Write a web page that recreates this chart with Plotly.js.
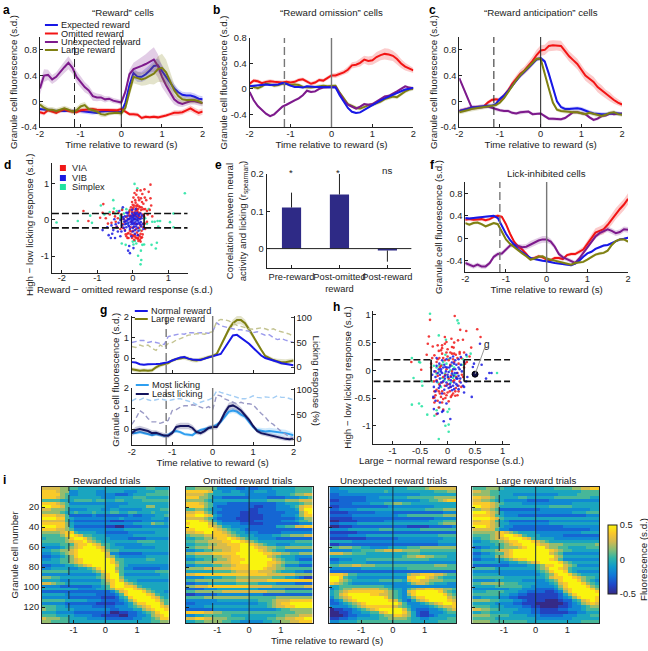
<!DOCTYPE html>
<html>
<head>
<meta charset="utf-8">
<script src="https://cdn.plot.ly/plotly-3.0.1.min.js"></script>
<style>html,body{margin:0;padding:0;background:#fff}</style>
</head>
<body>
<div id="fig" style="width:648px;height:651px"></div>
<script>
// time base shared by all the traces, read every 0.1 s
var t = [-2,-1.9,-1.8,-1.7,-1.6,-1.5,-1.4,-1.3,-1.2,-1.1,-1,-.9,-.8,-.7,-.6,-.5,-.4,-.3,-.2,-.1,0,.1,.2,.3,.4,.5,.6,.7,.8,.9,1,1.1,1.2,1.3,1.4,1.5,1.6,1.7,1.8,1.9,2];

// panel a
var aBlue = [-.12,-.13,-.13,-.14,-.15,-.15,-.15,-.14,-.15,-.15,-.15,-.16,-.17,-.18,-.18,-.16,-.15,-.15,-.15,-.16,-.17,-.02,.25,.44,.38,.38,.42,.48,.55,.56,.47,.38,.28,.2,.14,.1,.09,.09,.07,.04,.03];
var aRed = [-.17,-.19,-.14,-.16,-.18,-.15,-.12,-.15,-.16,-.17,-.14,-.13,-.13,-.12,-.13,-.13,-.14,-.13,-.14,-.14,-.12,-.16,-.2,-.2,-.21,-.26,-.24,-.25,-.24,-.25,-.24,-.22,-.2,-.18,-.18,-.17,-.14,-.11,-.15,-.18,-.16];
var aPurple = [.2,.4,.41,.34,.38,.46,.53,.6,.52,.38,.3,.22,.17,.08,.06,.06,.03,.04,.01,0,-.02,.15,.42,.5,.52,.55,.58,.62,.65,.55,.38,.25,.13,.03,-.02,-.04,-.02,0,0,-.01,-.03];
var aOlive = [-.05,-.1,-.13,-.13,-.15,-.13,-.11,-.13,-.16,-.14,-.08,-.06,-.12,-.14,-.16,-.2,-.21,-.19,-.18,-.18,-.19,-.1,.15,.38,.36,.34,.36,.4,.43,.5,.52,.45,.32,.17,.08,.03,.02,.02,.02,0,-.03];
var aBlueSem = [.03,.03,.03,.03,.03,.03,.03,.03,.03,.03,.03,.03,.03,.03,.03,.03,.03,.03,.03,.03,.03,.04,.06,.08,.08,.08,.09,.09,.1,.1,.1,.09,.08,.07,.05,.05,.05,.05,.05,.05,.05];
var aRedSem = [.03,.03,.03,.03,.03,.03,.03,.03,.03,.03,.03,.03,.03,.03,.03,.03,.03,.03,.03,.03,.03,.03,.03,.03,.03,.03,.03,.03,.03,.03,.03,.03,.03,.04,.04,.04,.04,.05,.05,.05,.05];
var aPurpleSem = [.1,.1,.08,.07,.07,.08,.09,.1,.09,.09,.09,.08,.07,.07,.06,.05,.05,.04,.04,.04,.04,.05,.07,.1,.12,.14,.15,.17,.19,.18,.16,.12,.1,.08,.06,.05,.05,.05,.05,.05,.05];
var aOliveSem = [.04,.05,.04,.04,.04,.04,.04,.04,.04,.05,.05,.05,.04,.04,.04,.04,.04,.03,.03,.03,.04,.05,.08,.1,.1,.1,.11,.13,.17,.2,.22,.2,.15,.1,.07,.06,.05,.05,.05,.04,.04];

// panel b
var bBlue = [.04,.05,.05,.06,.07,.06,.06,.07,.09,.08,.05,.03,.03,.02,.04,.03,.03,.03,.03,.03,.03,.02,-.1,-.2,-.3,-.36,-.38,-.37,-.33,-.29,-.25,-.22,-.18,-.15,-.12,-.09,-.06,-.03,-.01,0,.02];
var bRed = [.08,.13,.12,.09,.11,.12,.11,.1,.1,.11,.1,.11,.14,.15,.11,.08,.1,.14,.13,.17,.21,.21,.23,.26,.3,.37,.38,.41,.46,.44,.45,.5,.53,.55,.54,.52,.47,.4,.35,.32,.29];
var bPurple = [-.05,-.18,-.27,-.33,-.39,-.43,-.4,-.34,-.28,-.25,-.21,-.18,-.15,-.1,-.03,-.05,-.04,0,.02,.03,.03,.03,-.08,-.18,-.25,-.28,-.31,-.28,-.24,-.25,-.24,-.2,-.16,-.12,-.11,-.08,-.04,0,.04,.02,.01];
var bOlive = [.05,.03,.01,.04,.08,.07,.05,.06,.08,.08,.06,.07,.06,.03,.02,.02,.03,.04,.05,.04,.04,.05,-.06,-.15,-.24,-.27,-.3,-.31,-.28,-.26,-.25,-.23,-.2,-.16,-.14,-.12,-.13,-.08,-.04,-.01,0];
var bRedSem = [.03,.03,.03,.03,.03,.03,.03,.03,.03,.03,.03,.03,.03,.03,.03,.03,.03,.03,.03,.03,.03,.04,.04,.04,.05,.05,.05,.06,.06,.07,.07,.08,.08,.09,.09,.08,.08,.07,.06,.05,.04];

// panel c
var cBlue = [-.15,-.14,-.12,-.1,-.09,-.08,-.08,-.07,-.07,-.04,.04,.09,.16,.24,.33,.4,.46,.52,.58,.65,.67,.62,.43,.2,0,-.09,-.12,-.12,-.11,-.11,-.12,-.15,-.17,-.19,-.2,-.2,-.2,-.19,-.18,-.19,-.2];
var cRed = [-.15,-.13,-.12,-.1,-.09,-.09,-.08,-.02,.02,.03,.02,.09,.17,.27,.36,.43,.48,.55,.63,.72,.79,.8,.86,.87,.87,.86,.78,.7,.64,.58,.49,.4,.35,.3,.22,.17,.11,.07,.02,-.02,-.05];
var cPurple = [.36,.2,.04,-.09,-.1,-.1,-.09,-.08,-.1,-.13,-.14,-.15,-.15,-.18,-.19,-.17,-.17,-.16,-.2,-.19,-.19,-.23,-.27,-.27,-.28,-.28,-.26,-.21,-.17,-.17,-.19,-.2,-.25,-.29,-.27,-.23,-.22,-.19,-.2,-.2,-.19];
var cOlive = [-.17,-.16,-.14,-.12,-.11,-.1,-.09,-.08,-.07,-.06,-.02,.05,.14,.24,.33,.41,.47,.53,.6,.66,.66,.45,.2,-.02,-.13,-.15,-.16,-.17,-.17,-.17,-.18,-.2,-.18,-.2,-.22,-.23,-.21,-.18,-.17,-.2,-.21];
var cRedSem = [.03,.03,.03,.03,.03,.03,.03,.03,.03,.03,.03,.04,.04,.05,.05,.06,.06,.07,.07,.08,.08,.08,.08,.08,.08,.08,.08,.08,.08,.08,.08,.08,.08,.08,.08,.08,.07,.07,.06,.05,.04];

// panel f
var fBlue = [.36,.35,.36,.37,.37,.38,.39,.4,.36,.22,.08,-.03,-.12,-.2,-.25,-.3,-.35,-.37,-.39,-.4,-.41,-.43,-.44,-.45,-.46,-.47,-.48,-.45,-.4,-.33,-.27,-.24,-.19,-.16,-.13,-.12,-.09,-.05,-.02,-.01,.01];
var fRed = [.33,.34,.33,.34,.34,.32,.34,.38,.4,.38,.25,.08,-.06,-.15,-.2,-.28,-.37,-.35,-.32,-.34,-.38,-.39,-.35,-.35,-.37,-.3,-.28,-.28,-.24,-.2,-.1,0,.1,.13,.16,.24,.34,.44,.52,.6,.7];
var fPurple = [-.44,-.47,-.5,-.47,-.5,-.5,-.44,-.33,-.28,-.27,-.2,-.13,-.11,-.14,-.16,-.15,-.11,-.08,-.04,-.02,-.02,-.06,-.15,-.28,-.34,-.37,-.4,-.44,-.36,-.26,-.15,-.05,.03,.09,.13,.16,.13,.09,.11,.16,.15];
var fOlive = [.27,.24,.27,.28,.25,.21,.24,.27,.25,.12,-.02,-.1,-.16,-.22,-.27,-.32,-.38,-.36,-.33,-.32,-.36,-.38,-.4,-.42,-.43,-.45,-.47,-.44,-.43,-.42,-.38,-.33,-.29,-.27,-.26,-.22,-.12,-.05,-.02,-.02,-.06];
var fRedSem = [.03,.03,.03,.03,.03,.03,.03,.03,.03,.03,.03,.03,.03,.03,.03,.03,.03,.03,.03,.03,.03,.03,.03,.03,.03,.03,.03,.03,.04,.05,.06,.07,.08,.08,.09,.09,.1,.1,.1,.1,.1];
var fPurpleSem = [.04,.04,.04,.04,.04,.04,.04,.04,.04,.04,.04,.04,.04,.04,.05,.05,.06,.06,.06,.06,.06,.05,.05,.04,.04,.04,.04,.04,.04,.04,.04,.04,.04,.04,.04,.05,.05,.05,.05,.05,.05];

// panel g, upper plot
var gBlue = [-.2,-.22,-.3,-.33,-.3,-.28,-.29,-.28,-.25,-.2,-.12,-.05,.03,.05,-.03,-.07,-.1,-.1,-.03,.02,.1,.13,.2,.5,.8,1.1,1.13,1,.85,.7,.5,.3,.12,0,-.05,-.12,-.18,-.25,-.28,-.3,-.35];
var gOlive = [-.55,-.6,-.62,-.6,-.62,-.6,-.45,-.35,-.3,-.25,-.12,-.05,-.02,.02,-.03,-.1,-.12,-.08,-.02,.05,.1,.2,.6,1,1.4,1.7,1.85,1.85,1.7,1.4,1.05,.75,.4,.1,0,-.1,-.15,-.2,-.2,-.15,-.12];
var gOliveSem = [.1,.1,.1,.1,.1,.1,.1,.1,.08,.08,.08,.08,.08,.1,.1,.1,.1,.1,.08,.08,.08,.08,.1,.12,.15,.18,.2,.2,.18,.15,.12,.1,.08,.08,.08,.1,.12,.14,.14,.12,.1];
var gBlueLick = [50,52,54,54,50,52,50,47,46,62,64,66,68,67,70,70,69,70,70,69,72,90,84,82,80,78,76,76,75,73,70,72,68,65,66,60,56,58,55,53,50];
var gOliveLick = [42,40,45,42,45,38,34,45,40,48,50,55,58,62,65,66,68,68,67,70,72,93,97,96,94,90,85,83,80,78,77,78,80,78,75,78,74,72,70,67,62];

// panel g, lower plot
var gMost = [-.2,-.2,-.15,-.2,-.22,-.3,-.25,-.3,-.33,-.3,-.15,-.1,-.15,-.25,-.28,-.3,-.15,-.05,0,.05,.1,.2,.35,.6,.85,.9,.85,.7,.6,.35,.1,-.05,-.1,-.12,-.1,-.12,-.13,-.15,-.2,-.25,-.3];
var gLeast = [-.2,-.05,0,-.05,-.1,-.2,-.18,-.25,-.32,-.33,-.2,.1,.15,.15,.15,.05,-.15,-.2,-.1,.05,.1,.1,.4,.8,1.1,1.15,1.05,.9,.7,.45,.15,-.1,-.2,-.25,-.3,-.35,-.4,-.45,-.48,-.5,-.48];
var gMostSem = [.08,.08,.08,.08,.08,.08,.08,.08,.08,.08,.08,.08,.08,.08,.08,.08,.08,.08,.08,.08,.08,.1,.1,.12,.12,.12,.12,.12,.12,.1,.1,.12,.14,.16,.16,.16,.16,.16,.16,.14,.12];
var gLeastSem = [.16,.16,.16,.16,.14,.14,.12,.12,.12,.12,.12,.15,.16,.16,.16,.14,.12,.12,.12,.12,.12,.12,.14,.16,.18,.2,.18,.16,.14,.12,.1,.1,.1,.1,.1,.1,.1,.1,.1,.1,.1];
var gMostLick = [78,82,80,84,80,78,80,82,80,78,80,82,82,80,78,75,70,75,78,80,84,98,95,92,90,88,85,82,82,84,88,85,84,86,85,84,88,85,85,82,80];
var gLeastLick = [30,42,58,52,42,35,35,32,35,38,58,60,65,68,68,70,68,65,62,66,60,90,88,82,78,75,72,75,72,72,70,60,52,45,35,30,22,15,10,5,3];

// panel d, cells as [reward - omitted, high - low licking]
var viaD = [[-1.39,.25],[-.83,.44],[-1.25,-.03],[-.92,.06],[-.76,.05],[-.65,.15],[-.6,-.08],[-.55,.22],[-.5,.1],[-.45,-.18],[-.42,.05],[-.35,-.25],[-.3,.28],[-.28,-.12],[-.25,.02],[-.2,-.4],[-.18,-.45],[-.15,-.38],[-.12,-.5],[-.1,.12],[-.08,-.3],[-.05,.35],[-.04,-.05],[-.02,.5],[0,.3],[0,-.42],[.02,.62],[.03,.2],[.04,-.55],[.05,.4],[.06,-.1],[.08,.25],[.08,-.48],[.1,.7],[.1,.12],[.12,-.35],[.13,.42],[.15,.3],[.15,-.5],[.17,.05],[.18,.55],[.2,-.45],[.2,.2],[.22,-.15],[.23,.6],[.25,.35],[.25,-.3],[.27,.72],[.28,-.4],[.3,.45],[.32,.1],[.33,.85],[.35,-.25],[.38,.55],[.4,.25],[.45,.78],[.5,.98],[.5,.6],[.52,.4],[.48,.28],[.55,.1],[.35,.3],[.42,.15],[.05,.75],[.12,.82],[-.1,.22],[-.18,.08],[-.02,.1],[.06,.03],[-.06,-.2],[.1,-.25],[.15,.1],[.22,.08],[.3,-.1],[.28,.15],[.02,-.3],[-.12,.18],[-.02,-.5],[.14,-.52],[.2,-.55],[-.15,-.5],[0,.42],[.08,.48],[.18,.38],[.12,.28],[-.08,.28],[.04,.14],[-.22,-.28],[.24,-.5],[.16,-.42],[.02,.35],[.07,.55],[.11,.38],[.16,.62],[.2,.35],[.26,.5],[.3,.3],[.34,.62],[.22,.82],[.18,.18],[.24,.28],[-.02,.22],[-.06,.12],[.06,.16],[.1,.32],[.14,.22],[-.12,.02],[-.22,-.05],[-.28,-.22],[-.32,.15],[-.4,.2],[-.48,-.05],[-.7,-.1],[-.85,.2],[-.12,-.36],[-.06,-.4],[.02,-.45],[.06,-.42],[.1,-.5],[.16,-.58],[.22,-.38],[.26,-.48],[.3,-.2],[.34,-.1],[.4,-.05],[.12,-.12],[.18,-.22],[.02,-.2],[-.04,-.32],[.22,-.6]];
var vibD = [[-.72,-.2],[-.68,-.42],[-.62,-.5],[-.58,-.38],[-.55,-.28],[-.5,-.5],[-.48,-.12],[-.42,-.32],[-.38,.25],[-.35,-.45],[-.3,-.15],[-.28,.35],[-.25,-.22],[-.22,.1],[-.2,-.02],[-.18,-.2],[-.15,.12],[-.12,-.08],[-.1,.02],[-.08,-.25],[-.06,.1],[-.04,-.12],[-.02,.18],[0,-.02],[0,-.32],[.02,.08],[.04,-.18],[.06,.2],[.08,-.05],[.1,-.12],[.1,.08],[.12,0],[.14,-.22],[.16,.15],[.18,-.08],[.2,.02],[.22,.18],[.24,-.18],[.06,-.38],[-.04,-.45],[.14,-.42],[-.1,-.72],[-.13,-.85],[-.08,-.92],[.02,-.78],[-.02,.28],[.08,.3],[.25,.05],[.3,-.25],[.14,.05],[-.03,0],[.03,-.08],[-.12,-.15],[-.16,-.02],[-.22,-.12],[.05,.02],[.09,-.18],[0,.14],[-.08,.05],[.18,.12],[-.35,0],[-.26,.03],[-.4,-.08],[-.85,-.28],[-.6,-.15],[-.52,.02],[-.45,-.2],[-.32,-.32],[-.22,-.3],[-.18,-.1],[-.14,.2],[-.1,-.18],[-.06,-.05],[-.02,-.08],[.02,-.12],[.04,.03],[.07,-.28],[.1,.16],[.13,-.1],[.15,-.02],[.2,-.12],[.23,-.06],[.26,.12],[.12,.2],[-.02,.05],[-.14,.03],[-.24,-.05],[0,-.22],[.05,.12],[-.28,.08],[-.18,.2],[.28,-.12],[.16,-.3]];
var simplexD = [[-2.15,-.07],[-1.55,-.03],[-1.15,-.08],[-1.2,.12],[-.9,.4],[-.8,.15],[-.65,.22],[-.55,.55],[-.5,.18],[-.45,.25],[-.35,.05],[-.3,.3],[.05,1],[.13,.88],[.45,.3],[.55,-.05],[.72,-.18],[.62,-.05],[1.15,.18],[1.05,-.06],[1.15,-.2],[1.47,.74],[.7,-.03],[.77,-.03],[.68,-.63],[.53,-.69],[.65,-.79],[.32,-.68],[.27,-.69],[.23,-.85],[.15,-.99],[.24,-1.11],[.22,-1.23],[-.31,-.65],[-.2,-.69],[.02,-.68],[.06,-.58],[-.53,.32],[-.35,.12],[-.25,.18],[-.18,.3],[-.1,.25],[.1,-.65],[0,-.6],[-.15,-.1],[0,.08],[.08,.02],[.2,-.28],[.4,-.1],[.35,.05]];

// panel h, cells as [large - normal, high - low licking]
var viaH = [[.13,.98],[-.32,.91],[.23,.73],[.34,.71],[.54,.74],[.6,.6],[-.34,.61],[-.36,.48],[-.27,.43],[-.18,.45],[-.1,.45],[-.02,.51],[.07,.57],[.19,.54],[.28,.55],[.11,.41],[.22,.33],[.43,.41],[-.38,.28],[-.24,.27],[-.12,.36],[-.66,.15],[-.48,.01],[-.24,-.49],[-.16,-.67],[-.08,-.71],[-.2,-.79],[-.2,.15],[-.15,.22],[-.1,.3],[-.05,.18],[0,.25],[.05,.32],[.1,.2],[.15,.28],[.2,.12],[.25,.22],[.3,.05],[.05,.1],[-.12,.08],[-.02,.02],[.08,-.02],[.18,-.05],[-.22,-.02],[-.18,-.1],[-.08,-.12],[.02,-.15],[.12,-.18],[.22,-.2],[.28,-.12],[-.25,-.2],[-.15,-.25],[-.05,-.28],[.05,-.3],[.15,-.32],[.25,-.3],[-.2,-.35],[-.1,-.38],[0,-.4],[.1,-.42],[.2,-.38],[-.22,-.45],[-.12,-.48],[-.02,-.45],[.06,-.48],[.14,-.46],[-.18,-.55],[-.08,-.52],[.02,-.56],[-.26,-.5],[.35,.15],[.4,.25],[-.3,.12],[-.28,.22],[0,.38],[.08,.42],[-.05,.48],[.12,.3],[-.1,.4],[-.18,.2],[-.08,.22],[.02,.18],[.12,.15],[.22,.3],[.08,.3],[-.16,.35],[-.02,.32],[.18,.22],[-.14,.05],[-.04,-.08],[.06,-.1],[.16,-.12],[.26,-.08],[-.2,-.18],[-.1,-.22],[0,-.25],[.1,-.2],[.2,-.28],[-.16,-.38],[-.06,-.42],[.04,-.38],[.14,-.38],[-.24,-.38],[-.14,-.42],[.08,-.45],[.18,-.45],[-.1,-.58],[-.04,-.5],[-.24,-.58],[-.3,.05],[.32,.12],[.3,.32],[.12,.5],[-.05,.6]];
var vibH = [[.59,.48],[.34,.28],[.46,.06],[.48,.12],[.62,.1],[.76,-.05],[.8,-.05],[.7,-.15],[.44,-.48],[.3,-.3],[.34,-.2],[.36,-.12],[.28,-.28],[.24,.1],[.22,.02],[.26,-.02],[-.2,.22],[-.15,.12],[-.12,.02],[-.1,-.05],[-.06,.1],[-.03,-.02],[0,-.08],[.03,.05],[.06,-.12],[.1,.02],[.13,-.05],[.16,.1],[.18,-.15],[.08,.14],[-.18,-.05],[-.22,-.12],[-.14,-.15],[-.08,-.2],[-.02,-.22],[.04,-.25],[.1,-.28],[.16,-.25],[.2,-.1],[-.28,-.08],[-.25,-.3],[-.16,-.32],[-.06,-.35],[.02,-.32],[.08,-.36],[.18,-.28],[-.26,-.48],[-.22,-.55],[-.14,-.58],[-.02,-.6],[-.25,-.7],[-.18,-.78],[-.1,-.75],[-.08,-.73],[-.07,-.92],[.05,-.88],[-.14,-.08],[-.04,.06],[.12,.12],[-.02,.2],[.05,.22],[.14,.18],[.24,.24],[-.2,.08],[-.16,.02],[-.12,-.02],[-.08,.05],[-.05,-.1],[-.01,.05],[.02,-.03],[.05,.08],[.08,-.06],[.11,-.1],[.14,.02],[.17,-.05],[.2,.05],[.23,-.15],[-.24,-.02],[-.2,-.2],[-.12,-.22],[-.05,-.15],[.01,-.12],[.06,-.18],[.12,-.22],[.16,-.15],[.24,-.22],[-.14,-.28],[-.02,-.28],[.06,-.3],[.12,-.34],[.2,-.34],[-.22,-.38],[-.1,-.42],[.3,-.4],[.3,.15],[.1,.25],[-.1,.18],[.2,.2]];
var simplexH = [[-.32,1.02],[.2,.85],[.18,.9],[-.16,.63],[-.03,.55],[.35,.25],[.42,.3],[-.65,.22],[-.52,.15],[-.5,.14],[-.62,-.14],[-.47,-.2],[-.46,-.28],[-.65,-.62],[-.52,-.6],[-.47,-.65],[-.37,-.8],[-.24,-.82],[-.2,-.72],[-.15,-.67],[.03,-.7],[.02,-.98],[0,-.75],[-.04,-1],[.02,-1.11],[-.16,-1.24],[.9,-.05],[-.1,.1],[-.05,-.06],[.02,-.18],[-.15,-.02],[-.2,.05],[.1,-.08],[-.08,.15],[.05,0],[-.12,-.3],[0,-.12],[.12,.05],[-.25,.08],[-.04,.28],[-.28,-.2],[.15,-.12],[.52,-.06],[-.15,.08],[-.1,-.14],[-.02,.12],[.08,.08],[-.18,-.22],[-.06,-.18],[.06,-.22],[.14,-.08],[-.2,-.06],[.02,.2],[.1,-.14],[.26,.1],[.28,.2]];
var exampleCellH = [.5,-.07];

// panel e
var corrLabels = ["Pre-reward","Post-omitted<br>reward","Post-reward"];
var corrValues = [.11,.145,-.005];
var corrErrPlus = [.04,.055,0];
var corrErrMinus = [0,0,.03];

// panel i, one string per group of cells, digit 0..9 is -0.5..0.5 s.d., 28 time bins
var heatRewarded = ["7777665544444444444444455444","8887663344443344443334444555","8888653344443333222344455555","8887654444444333444455544444","5555444555545544554444555555","8887653333333333333444444444","9988754444444433344444466444","7766653333444334433333444455","6666544544454445544554445444","8887752222232222222322333445","9998854333333333343333334443","7777753222222221112222333333","8888864333333333333344446554","9998864222222211002222333333","8887765333333333334444444444","6666788544443322222333333444","5555689875544433333344444444","4555568998654443333222233333","5555567889765444444445555444","4444555788987554333333444444","3333456789998754443333333444","4455667899999865544444444444","3344567899999973322222333333","2233456899999976433333344444","3344556789999998554444455444","4444556789999998654444444444","2233344567899999754333333333","3344443344568999653322222233","5555554444456899754444444555","3333333333334689953333333344","6655444444445689964444444444","4444333333333578975443333333","7765544444444568997654444444","3333222222233458998875444444","4444444433334456889987654444","2222222222222223578999865443","4444433333332222358999987544","3333332222222111245899998754","5555544444333222234689999865","3333322222221111223468899975","5554433333322222333456789987","6554444333333332233344678998","4443333222222220011223456899","5554444333322111100223346789","7666554444333322222233445688","6655554444444444444444445566"];
var heatOmitted = ["5566665333322322333444445555","8888874433443334443344445555","7777654444444333333344456677","8886653322222233332222333445","6666544444444444445555666777","8887653332222222222233444566","8888653222222221122233345788","5566543322222211222233334799","7788653222221111222222333689","8899874322221111122223334688","7777653222211111122222223466","9998764322221112222223334556","8999976433332211122222222333","9999987644333322222244557788","8899998765443222222222222222","7788998876544333222223333333","5666778887654443333445566677","4455667889876544333322222222","5566677788998765444444445555","4455566778889987654433344444","5566677777889998776655666666","3344556677889999876544333333","6677778888899999988776655666","4455556677889999997654443333","3344555667888999999765443222","5566667777889999998876555444","3344445566788899998765333222","6666777777888899987766555555","4444445555677788777654443322","7788888888888888887777776666","3333444455566666666555443211","5566666666677777778888888888","2233344444455555444433332222","6677788888888877777666666677","2222333444444444333333222222","5566666677777777776666555555","1122222333333333322222222222","5555666666666655555566666666","3333333444444444555677788888","2233333333333333445678899999","3333444444444444445677889999","2222223333333333333345566666","8888776655555555555555556666","3344555555444444444455666777","7788776665555444445566778899","4455666655443333344556677888"];
var heatUnexpected = ["3344444444444444455556777777","3333444444445444444444455566","2233333333333333333344444444","2222222233344444455555566666","1122222233333333333344556788","2222233334445566554444444444","1122222222222333333333344444","2233334444444444444445555666","1111222222333322222222222333","2222233333333334455555555666","1111122222222222222222233333","0011112222223333333333444555","2233334444444444444444445666","0011122222222222211111222223","3333444444455544444455555555","1111112222222222222222222222","2222333344444444444444445555","1111111122222223333333333444","4444433333333333333333334444","1122222222222222222222223333","5566655443333444455566666666","3333344555667777666655555555","7776655544444444455544444444","4444444444444444566776655544","2233344455555555555555444444","3344444433333333333333333333","5566677666555555555555566655","3333333444444444455555555555","2222222222222222222222222222","8887554444444444467788877655","9985443333333333388998765444","9976544444455555478877666555","8765433333333333346776544433","4455555555554433333333333333","3456677777766544356778877665","4567888888887654378999998654","4578999998877654368999999865","3567899999998654346889999976","2346789999999875324678999987","2234567899999997533345678998","3333456788888876543333456778","0112234567899999753222334567","0011233445578999864211333455","0001223334456688764211234444","1122334444455666654433444455","3344445555555555554444445555"];
var heatLarge = ["5556665444444444445555667788","7766554444444444444444445555","6666554443333333333444455555","8877654444554444445555555544","7766544333332222233333333333","8888765444433333333333444444","9988764444444444455555444444","6677652222222223333333333344","9998764333333333333333444555","8888754333222222222222222333","9999875444444444444444444444","7788754322222222233333333333","8888764433333333344444444444","9998764332222222222233333333","7777753322222222222222222233","6666678765444433333333334444","5555678998754443333322222222","4455677899987544443333333333","3344556788999876544444444444","4444455678899987766655555556","2233445666789999766554444555","4455567789999999987655444444","2233455789999999976533333333","3344466789999999997644444444","2233344567889999987533333333","4444443344556789999865444444","2222222233334456889976533333","5555544444444456799875444444","3333333333333345689985433333","4444443333333334568998654444","5555555444444444578899876554","3333344444433333456899986543","5566666555444433345789998654","4444455555544333334689999865","3333333344433322223578999986","4445555444332222112368999998","5555554433221111111246899999","3344443322111111111234689998","6666554443321111000122457898","4444433332211100000012346787","5555444333322110000112334566","7766554444333221111223334555","4455444443333221111112233444","6666555544443332222233344455","5555544444444433333333444444","6666555555554444444444445555"];
var heatCells = 136;

var BLUE = '#1818e6', RED = '#f21414', PURPLE = '#7d1a8c', OLIVE = '#7f8012', LIGHTBLUE = '#2f9ff0', NAVY = '#14145e';
var VIA = '#f01818', VIB = '#1a1ae0', SIMPLEX = '#1fe3a0';
var FONT = 'Arial, "Liberation Sans", sans-serif';
var TICKSIZE = 9.3, TITLESIZE = 9.7, KEYSIZE = 9.2;
var W = 648, H = 651;
var parula = [[0,'#352a87'],[.13,'#1f46c8'],[.27,'#1077d8'],[.4,'#0f9bcc'],[.52,'#2eb5a8'],[.64,'#84bd76'],[.76,'#d2b950'],[.88,'#fac72c'],[1,'#f9f40e']];

var traces = [], annotations = [], shapes = [];
var layout = {
  width: W, height: H, margin: {l:0, r:0, t:0, b:0}, showlegend: false,
  paper_bgcolor: '#fff', plot_bgcolor: 'rgba(0,0,0,0)', font: {family: FONT, size: TICKSIZE, color: '#222'}
};

function dx(a, b) { return [a/W, b/W]; }
function dy(top, bottom) { return [1-bottom/H, 1-top/H]; }

// puts an axis pair on the page, box given in pixels
function addAxes(n, box, xo, yo) {
  var xn = 'xaxis' + (n == 1 ? '' : n), yn = 'yaxis' + (n == 1 ? '' : n);
  layout[xn] = Object.assign({domain: dx(box[0], box[1]), anchor: n == 1 ? 'y' : 'y'+n, showline: true, linecolor: '#222', linewidth: 1,
    ticks: 'inside', ticklen: 3, tickcolor: '#222', showgrid: false, zeroline: false, tickfont: {size: TICKSIZE, family: FONT}, tickangle: 0, ticklabelstandoff: -2}, xo);
  layout[yn] = Object.assign({domain: dy(box[2], box[3]), anchor: n == 1 ? 'x' : 'x'+n, showline: true, linecolor: '#222', linewidth: 1,
    ticks: 'inside', ticklen: 3, tickcolor: '#222', showgrid: false, zeroline: false, tickfont: {size: TICKSIZE, family: FONT}}, yo);
}
function axTitle(text, standoff) { return {text: text, standoff: standoff, font: {size: TITLESIZE, family: FONT}}; }
function refs(n) { return {xaxis: n == 1 ? 'x' : 'x'+n, yaxis: n == 1 ? 'y' : 'y'+n}; }

function addCurve(n, y, color, sem, dash, width) {
  var r = refs(n);
  if (sem) {
    var up = [], lo = [];
    for (var i = 0; i < y.length; i++) {
      var s = sem.length ? sem[i] : sem;
      up.push(y[i]+s); lo.unshift(y[i]-s);
    }
    traces.push({x: t.concat(t.slice().reverse()), y: up.concat(lo), xaxis: r.xaxis, yaxis: r.yaxis, mode: 'lines', fill: 'toself',
      fillcolor: color, opacity: .22, line: {width: 0}, hoverinfo: 'skip'});
  }
  traces.push({x: t, y: y, xaxis: r.xaxis, yaxis: r.yaxis, mode: 'lines', line: {color: color, width: width || 2, dash: dash || 'solid'}});
}
function addEvents(n, color, w, dashed) {
  var r = refs(n);
  shapes.push({type: 'line', xref: r.xaxis, yref: r.yaxis+' domain', x0: 0, x1: 0, y0: 0, y1: 1, line: {color: color, width: w}});
  if (dashed) shapes.push({type: 'line', xref: r.xaxis, yref: r.yaxis+' domain', x0: -1.15, x1: -1.15, y0: 0, y1: 1, line: {color: color, width: w, dash: '8px,4px'}});
}
// dashed limits run in from both sides and stop at the solid brackets
function addBrackets(n, lo, hi, left, right, xmin, xmax) {
  var r = refs(n), st = {color: '#111', width: 1.6, dash: '7px,3px'}, so = {color: '#111', width: 1.6};
  [lo, hi].forEach(function (v) {
    shapes.push({type: 'line', xref: r.xaxis, yref: r.yaxis, x0: xmin, x1: left, y0: v, y1: v, line: st});
    shapes.push({type: 'line', xref: r.xaxis, yref: r.yaxis, x0: right, x1: xmax, y0: v, y1: v, line: st});
  });
  [left, right].forEach(function (v) {
    shapes.push({type: 'line', xref: r.xaxis, yref: r.yaxis, x0: v, x1: v, y0: lo, y1: hi, line: so});
  });
}
function addDots(n, pts, color) {
  var r = refs(n);
  traces.push({x: pts.map(function (p) { return p[0]; }), y: pts.map(function (p) { return p[1]; }), xaxis: r.xaxis, yaxis: r.yaxis,
    mode: 'markers', marker: {color: color, size: 2.6, opacity: .85}});
}
function addText(text, px, py, o) {
  annotations.push(Object.assign({text: text, xref: 'paper', yref: 'paper', x: px/W, y: 1-py/H, showarrow: false, xanchor: 'center', yanchor: 'middle',
    font: {size: TITLESIZE, family: FONT, color: '#222'}}, o || {}));
}
function addKey(color, x0, x1, py) {
  shapes.push({type: 'line', xref: 'paper', yref: 'paper', x0: x0/W, x1: x1/W, y0: 1-py/H, y1: 1-py/H, line: {color: color, width: 2}});
}
function addSquareKey(color, px, py) {
  shapes.push({type: 'rect', xref: 'paper', yref: 'paper', x0: (px-3)/W, x1: (px+3)/W, y0: 1-(py+3)/H, y1: 1-(py-3)/H, fillcolor: color, line: {width: 0}});
}
function letter(s, px, py) { addText('<b>'+s+'</b>', px, py, {font: {size: 12, family: FONT, color: '#000'}}); }

var timeX = {range: [-2, 2], tickvals: [-2,-1,0,1,2], ticktext: ['-2','-1','0','1','2']};
var TIME = 'Time relative to reward (s)', GC = 'Granule cell fluorescence (s.d.)';
var yTicks = {tickvals: [-.4,0,.4,.8], ticktext: ['-0.4','0','0.4','0.8']};

// a
addAxes(1, [40,203,37,127], Object.assign({title: axTitle(TIME, 0)}, timeX), Object.assign({range: [-.4,1], title: axTitle(GC, 1)}, yTicks));
addCurve(1, aBlue, BLUE, aBlueSem); addCurve(1, aRed, RED, aRedSem); addCurve(1, aPurple, PURPLE, aPurpleSem); addCurve(1, aOlive, OLIVE, aOliveSem);
addEvents(1, '#222', 1, true);

// b
addAxes(2, [250,414,38,127], Object.assign({title: axTitle(TIME, 0)}, timeX), Object.assign({range: [-.6,.8], title: axTitle(GC, 1)}, yTicks));
addCurve(2, bRed, RED, bRedSem); addCurve(2, bOlive, OLIVE, .03); addCurve(2, bPurple, PURPLE, .02); addCurve(2, bBlue, BLUE, .015);
addEvents(2, '#777', 1.4, true);

// c
addAxes(3, [460,623,37,127], Object.assign({title: axTitle(TIME, 0)}, timeX), Object.assign({range: [-.4,1], title: axTitle(GC, 1)}, yTicks));
addCurve(3, cRed, RED, cRedSem); addCurve(3, cPurple, PURPLE, .025); addCurve(3, cBlue, BLUE, .03); addCurve(3, cOlive, OLIVE, .03);
addEvents(3, '#222', 1, true);

// d
addAxes(4, [52,188,163,273], {range: [-2.28,1.55], tickvals: [-2,-1,0,1], ticktext: ['-2','-1','0','1'], ticklabelstandoff: -4},
  {range: [-1.47,1.58], tickvals: [-1,0,1], ticktext: ['-1','0','1']});
addDots(4, simplexD, SIMPLEX); addDots(4, viaD, VIA); addDots(4, vibD, VIB);
addBrackets(4, -.22, .18, -.32, .32, -2.28, 1.55);
addText('Reward \u2212 omitted reward response (s.d.)', 125, 289);
addText('High \u2212 low licking response (s.d.)', 30, 225, {textangle: -90});

// e
addAxes(5, [267,412,174,268], {range: [.48,3.5], tickvals: [1,2,3], ticktext: corrLabels, tickangle: 0, ticklabelstandoff: 0},
  {range: [-.052,.2], tickvals: [0,.1,.2], ticktext: ['0','0.1','0.2'], title: axTitle('Correlation between neural<br>activity and licking (r<sub>spearman</sub>)', 2)});
traces.push({type: 'bar', x: [1,2,3], y: corrValues, xaxis: 'x5', yaxis: 'y5', width: .4, marker: {color: '#2e2a86'},
  error_y: {type: 'data', symmetric: false, array: corrErrPlus, arrayminus: corrErrMinus, color: '#222', thickness: 1, width: 0}});
shapes.push({type: 'line', xref: 'x5 domain', yref: 'y5', x0: 0, x1: 1, y0: 0, y1: 0, line: {color: '#222', width: 1}});
addText('*', 291, 172); addText('*', 339, 172); addText('ns', 388, 171);

// f
addAxes(6, [466,629,182,272], Object.assign({title: axTitle(TIME, 0)}, timeX), Object.assign({range: [-.6,1], title: axTitle(GC, 1)}, yTicks));
addCurve(6, fRed, RED, fRedSem); addCurve(6, fPurple, PURPLE, fPurpleSem); addCurve(6, fBlue, BLUE, .02); addCurve(6, fOlive, OLIVE, .025);
addEvents(6, '#777', 1.4, true);

// g upper, with licking on the overlaid right axis
var gY = {tickvals: [0,1,2], ticktext: ['0','1','2']};
addAxes(7, [132,294,316,373], {range: [-2,2], showticklabels: false, tickvals: [-2,-1,0,1,2]}, Object.assign({range: [-.73,2.05]}, gY));
addAxes(8, [132,294,388,445], Object.assign({title: axTitle(TIME, 0)}, timeX), Object.assign({range: [-.78,2]}, gY));
layout.yaxis14 = {overlaying: 'y7', side: 'right', anchor: 'x7', range: [-12,104], tickvals: [0,50,100], ticktext: ['0','50','100'], showline: true, linecolor: '#222', ticks: 'inside', ticklen: 3, showgrid: false, zeroline: false, tickfont: {size: TICKSIZE, family: FONT}};
layout.yaxis15 = {overlaying: 'y8', side: 'right', anchor: 'x8', range: [-12,104], tickvals: [0,50,100], ticktext: ['0','50','100'], showline: true, linecolor: '#222', ticks: 'inside', ticklen: 3, showgrid: false, zeroline: false, tickfont: {size: TICKSIZE, family: FONT}};
function addLick(xa, ya, y, color) {
  traces.push({x: t, y: y, xaxis: xa, yaxis: ya, mode: 'lines', line: {color: color, width: 1.4, dash: '5px,3px'}});
}
addLick('x7', 'y14', gBlueLick, '#9a9aec'); addLick('x7', 'y14', gOliveLick, '#c4c492');
addLick('x8', 'y15', gMostLick, '#a3cdf4'); addLick('x8', 'y15', gLeastLick, '#9a9ac6');
addCurve(7, gOlive, OLIVE, gOliveSem); addCurve(7, gBlue, BLUE, .03);
addCurve(8, gMost, LIGHTBLUE, gMostSem); addCurve(8, gLeast, NAVY, gLeastSem);
addEvents(7, '#777', 1.4, true); addEvents(8, '#777', 1.4, true);
addText(GC, 115, 380, {textangle: -90});
addText('Licking response (%)', 317, 380, {textangle: 90});

// h
addAxes(9, [374,511,311,444], {range: [-1.35,1.14], tickvals: [-1,-.5,0,.5,1], ticktext: ['-1','-0.5','0','0.5','1']},
  {range: [-1.33,1.07], tickvals: [-1,-.5,0,.5,1], ticktext: ['-1','-0.5','0','0.5','1'], title: axTitle('High \u2212 low licking response (s.d.)', 1)});
addDots(9, simplexH, SIMPLEX); addDots(9, viaH, VIA); addDots(9, vibH, VIB);
addBrackets(9, -.2, .19, -.3, .3, -1.35, 1.14);
addText('Large \u2212 normal reward response (s.d.)', 442, 460);
shapes.push({type: 'line', xref: 'x9', yref: 'y9', x0: exampleCellH[0], y0: exampleCellH[1], x1: .68, y1: .42, line: {color: '#999', width: 1}});
traces.push({x: [exampleCellH[0]], y: [exampleCellH[1]], xaxis: 'x9', yaxis: 'y9', mode: 'markers', marker: {color: '#0b0b40', size: 6, line: {color: '#000', width: 1}}});
addText('g', 488, 344, {font: {size: 10, family: FONT, color: '#222'}});

// i
function decodeHeat(rows) {
  return rows.map(function (r) { return r.split('').map(function (c) { return -.5 + Number(c)/9; }); });
}
var heatX = [], heatY = [];
for (var j = 0; j < 28; j++) heatX.push(-2 + (j+.5)*4/28);
for (var k = 0; k < 46; k++) heatY.push((k+.5)*heatCells/46);
function addHeat(n, left, rows, first, dashed, last) {
  var r = refs(n);
  var yo = {range: [136,0], tickvals: [20,40,60,80,100,120], mirror: true};
  if (first) { yo.ticktext = ['20','40','60','80','100','120']; yo.title = axTitle('Granule cell number', 3); }
  else { yo.showticklabels = false; }
  addAxes(n, [left, left+127, 487, 623], {range: [-2,2], tickvals: [-1,0,1], ticktext: ['-1','0','1'], mirror: true}, yo);
  var h = {type: 'heatmap', x: heatX, y: heatY, z: decodeHeat(rows), xaxis: r.xaxis, yaxis: r.yaxis, zmin: -.5, zmax: .5, colorscale: parula, showscale: !!last};
  if (last) h.colorbar = {x: 608/W, xanchor: 'left', y: 1-559.5/H, yanchor: 'middle', lenmode: 'pixels', len: 69, thicknessmode: 'pixels', thickness: 9, xpad: 0, ypad: 0,
    outlinecolor: '#222', outlinewidth: 1, ticks: '', tickvals: [-.5,0,.5], ticktext: ['-0.5','0','0.5'], tickfont: {size: TICKSIZE, family: FONT},
    title: {text: 'Fluorescence (s.d.)', side: 'right', font: {size: TITLESIZE, family: FONT}}};
  traces.push(h);
  addEvents(n, '#1a2a3a', 1, dashed);
}
addHeat(10, 42, heatRewarded, true, true, false);
addHeat(11, 186, heatOmitted, false, true, false);
addHeat(12, 330, heatUnexpected, false, false, false);
addHeat(13, 473, heatLarge, false, true, true);

// titles and keys
addText('\u201cReward\u201d cells', 123, 13);
addText('\u201cReward omission\u201d cells', 332, 13);
addText('\u201cReward anticipation\u201d cells', 542, 13);
addText('Lick-inhibited cells', 547, 174);
addText('Rewarded trials', 107, 481);
addText('Omitted reward trials', 248, 481);
addText('Unexpected reward trials', 394, 481);
addText('Large reward trials', 537, 481);
addText(TIME, 328, 640);

function keyText(a, x0, x1) {
  addKey(a[1], x0, x1, a[2]);
  addText(a[0], x1+1, a[2], {xanchor: 'left', font: {size: KEYSIZE, family: FONT, color: '#222'}});
}
[['Expected reward', BLUE, 25], ['Omitted reward', RED, 33.5], ['Unexpected reward', PURPLE, 42], ['Large reward', OLIVE, 50]].forEach(function (a) { keyText(a, 45, 58); });
[['Normal reward', BLUE, 311], ['Large reward', OLIVE, 319]].forEach(function (a) { keyText(a, 135, 148); });
[['Most licking', LIGHTBLUE, 385], ['Least licking', NAVY, 394]].forEach(function (a) { keyText(a, 136, 149); });
[['VIA', VIA, 168], ['VIB', VIB, 178], ['Simplex', SIMPLEX, 187]].forEach(function (a) {
  addSquareKey(a[1], 63, a[2]);
  addText(a[0], 70, a[2], {xanchor: 'left', font: {size: KEYSIZE, family: FONT, color: '#222'}});
});

letter('a', 7, 10); letter('b', 217, 10); letter('c', 433, 10);
letter('d', 8, 165); letter('e', 219, 165); letter('f', 433, 165);
letter('g', 104, 310); letter('h', 337, 307); letter('i', 5, 480);

layout.annotations = annotations;
layout.shapes = shapes;

Plotly.newPlot('fig', traces, layout, {displayModeBar: false, staticPlot: true});
</script>
</body>
</html>
